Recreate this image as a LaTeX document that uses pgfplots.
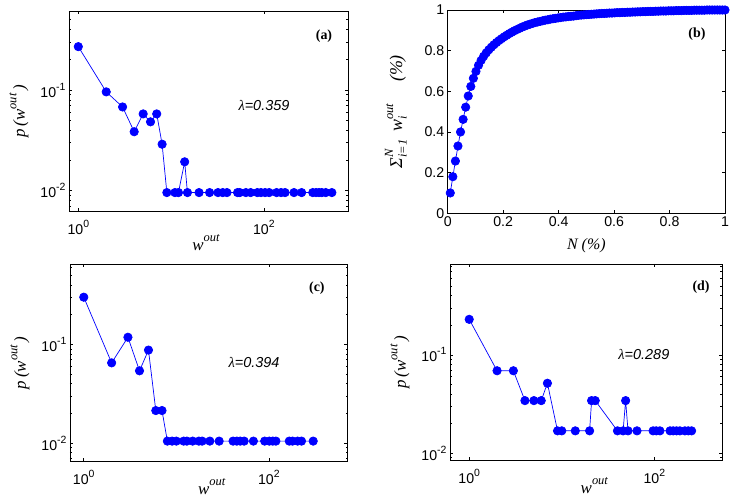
\documentclass[border=0pt]{standalone}
\usepackage{pgfplots}
\pgfplotsset{compat=1.18}
\usepackage{fontspec}
\setmainfont{Liberation Sans}
\newfontfamily\serif{Liberation Serif}
\definecolor{mblue}{RGB}{0,0,255}
\newcommand\supt[1]{\raisebox{0.5em}{\fontsize{10.5}{11}\selectfont #1}}
\newcommand\supl[1]{\raisebox{0.5em}{\fontsize{12.5}{13}\selectfont #1}}
\newcommand\subl[1]{\raisebox{-0.25em}{\fontsize{12.5}{13}\selectfont #1}}

\pgfplotstableread{
x y
1 0.27
2 0.096
3 0.068
4 0.0386
5 0.058
6 0.0484
7 0.058
8 0.029
9 0.0096
11 0.0096
12 0.0096
14 0.0194
15 0.0096
20 0.0096
26 0.0096
32 0.0096
36 0.0096
40 0.0096
52 0.0096
55 0.0096
64 0.0096
72 0.0096
85 0.0096
93 0.0096
103 0.0096
114 0.0096
137 0.0096
153 0.0096
169 0.0096
211 0.0096
255 0.0096
336 0.0096
365 0.0096
393 0.0096
421 0.0096
464 0.0096
540 0.0096
}\dataA

\pgfplotstableread{
x y
0.0093 0.100
0.0185 0.180
0.0278 0.257
0.0370 0.331
0.0463 0.400
0.0556 0.462
0.0648 0.522
0.0741 0.577
0.0833 0.624
0.0926 0.664
0.1019 0.698
0.1111 0.728
0.1204 0.752
0.1296 0.772
0.1389 0.789
0.1481 0.804
0.1574 0.817
0.1667 0.829
0.1759 0.840
0.1852 0.850
0.1944 0.859
0.2037 0.868
0.2130 0.876
0.2222 0.884
0.2315 0.891
0.2407 0.898
0.2500 0.904
0.2593 0.910
0.2685 0.916
0.2778 0.921
0.2870 0.926
0.2963 0.930
0.3056 0.934
0.3148 0.938
0.3241 0.941
0.3333 0.944
0.3426 0.947
0.3519 0.950
0.3611 0.952
0.3704 0.955
0.3796 0.957
0.3889 0.959
0.3981 0.961
0.4074 0.963
0.4167 0.965
0.4259 0.966
0.4352 0.968
0.4444 0.969
0.4537 0.970
0.4630 0.972
0.4722 0.974
0.4815 0.975
0.4907 0.976
0.5000 0.977
0.5093 0.978
0.5185 0.979
0.5278 0.980
0.5370 0.981
0.5463 0.982
0.5556 0.983
0.5648 0.983
0.5741 0.984
0.5833 0.985
0.5926 0.985
0.6019 0.986
0.6111 0.987
0.6204 0.987
0.6296 0.988
0.6389 0.988
0.6481 0.989
0.6574 0.989
0.6667 0.990
0.6759 0.990
0.6852 0.991
0.6944 0.991
0.7037 0.992
0.7130 0.992
0.7222 0.993
0.7315 0.993
0.7407 0.993
0.7500 0.994
0.7593 0.994
0.7685 0.995
0.7778 0.995
0.7870 0.995
0.7963 0.996
0.8056 0.996
0.8148 0.996
0.8241 0.997
0.8333 0.997
0.8426 0.997
0.8519 0.998
0.8611 0.998
0.8704 0.998
0.8796 0.998
0.8889 0.999
0.8981 0.999
0.9074 0.999
0.9167 0.999
0.9259 0.999
0.9352 1.000
0.9444 1.000
0.9537 1.000
0.9630 1.000
0.9722 1.000
0.9815 1.000
0.9907 1.000
1.0000 1.000
}\dataB

\pgfplotstableread{
x y
1 0.30
2 0.065
3 0.118
4 0.054
5 0.0875
6 0.0214
7 0.0214
8 0.0105
9 0.0105
10 0.0105
12 0.0105
13 0.0105
15 0.0105
17.5 0.0105
19 0.0105
23 0.0105
29 0.0105
41 0.0105
45 0.0105
49 0.0105
54 0.0105
68 0.0105
90 0.0105
101 0.0105
110 0.0105
119 0.0105
166 0.0105
180 0.0105
204 0.0105
225 0.0105
301 0.0105
}\dataC

\pgfplotstableread{
x y
1 0.23
2 0.069
3 0.069
4 0.0343
5 0.0343
6 0.0343
7 0.0515
9 0.0169
10 0.0169
14 0.0169
20 0.0169
21 0.0343
23 0.0343
40 0.0169
46 0.0169
49 0.0343
52 0.0169
65 0.0169
97 0.0169
105 0.0169
115 0.0169
148 0.0169
160 0.0169
174 0.0169
189 0.0169
214 0.0169
233 0.0169
253 0.0169
}\dataD

\pgfplotsset{
  panel/.style={
    scale only axis, anchor=north west,
    axis line style={line width=0.9bp},
    every tick/.style={black, line width=0.6bp},
    major tick length=3.5bp, minor tick length=2bp,
    tick label style={font=\fontsize{14.2}{16}\selectfont},
  },
  logpanel/.style={
    panel,
    xtick={1,100}, xticklabels={10\supt{0},10\supt{2}},
    minor xtick={},
    ytick={0.01,0.1}, yticklabels={10\supt{-2},10\supt{-1}},
    minor ytick={0.002,0.003,0.004,0.005,0.006,0.007,0.008,0.009,0.02,0.03,0.04,0.05,0.06,0.07,0.08,0.09,0.2,0.3,0.4,0.5,0.6,0.7,0.8,0.9},
    xticklabel style={yshift=-5bp},
    every axis y label/.style={at={(rel axis cs:0,0.5)}, anchor=center, xshift=-50bp, rotate=90},
    ylabel={\fontsize{17}{19}\selectfont\serif\itshape p\,(w\supl{out}\,)},
  },
  dat/.style={mblue, line width=0.7bp, mark=*, mark size=4.2bp, mark options={fill=mblue, draw=mblue}},
}

\begin{document}
\begin{tikzpicture}
\useasboundingbox (0,0) rectangle (734bp,501bp);

% (a)
\begin{loglogaxis}[logpanel, at={(69bp,490bp)}, width=279.3bp, height=200.7bp,
  xmin=0.794, xmax=812, ymin=0.0062, ymax=0.61,
  every axis x label/.style={at={(rel axis cs:0.49,0)}, anchor=center, yshift=-31bp},
  xlabel={\fontsize{17}{19}\selectfont\serif\itshape w\supl{out}}]
\addplot[dat] table[x=x,y=y] {\dataA};
\node[font=\fontsize{14}{16}\selectfont\serif\bfseries] at (rel axis cs:0.913,0.875) {(a)};
\node[font=\fontsize{14.5}{16}\selectfont\itshape] at (rel axis cs:0.698,0.527) {{\serif λ}=0.359};
\end{loglogaxis}

% (b)
\begin{axis}[panel, at={(447.7bp,491bp)}, width=277.3bp, height=203.3bp,
  xmin=0, xmax=1, ymin=0, ymax=1,
  xtick={0,0.2,0.4,0.6,0.8,1}, xticklabels={0,0.2,0.4,0.6,0.8,1},
  ytick={0,0.2,0.4,0.6,0.8,1}, yticklabels={0,0.2,0.4,0.6,0.8,1},
  every axis x label/.style={at={(rel axis cs:0.5,0)}, anchor=center, yshift=-32bp},
  xlabel={\fontsize{16}{18}\selectfont\serif\itshape N (\%)},
  every axis y label/.style={at={(rel axis cs:0,0.5)}, anchor=center, xshift=-52bp, rotate=90},
  ylabel={\fontsize{18}{20}\selectfont\serif\itshape Σ\rlap{\supl{N}}\subl{i=1}\hspace{0.45em}w\rlap{\supl{out}}\subl{i}\hspace{1.9em}(\%)}]
\addplot[dat] table[x=x,y=y] {\dataB};
\node[font=\fontsize{14}{16}\selectfont\serif\bfseries] at (rel axis cs:0.899,0.882) {(b)};
\end{axis}

% (c)
\begin{loglogaxis}[logpanel, at={(70bp,237bp)}, width=277.7bp, height=197.7bp,
  xmin=0.71, xmax=710, ymin=0.0065, ymax=0.65,
  every axis x label/.style={at={(rel axis cs:0.51,0)}, anchor=center, yshift=-25bp},
  xlabel={\fontsize{17}{19}\selectfont\serif\itshape w\supl{out}}]
\addplot[dat] table[x=x,y=y] {\dataC};
\node[font=\fontsize{14}{16}\selectfont\serif\bfseries] at (rel axis cs:0.889,0.879) {(c)};
\node[font=\fontsize{14.5}{16}\selectfont\itshape] at (rel axis cs:0.663,0.504) {{\serif λ}=0.394};
\end{loglogaxis}

% (d)
\begin{loglogaxis}[logpanel, at={(450bp,237bp)}, width=272.3bp, height=196.7bp,
  xmin=0.62, xmax=543, ymin=0.0084, ymax=0.84,
  every axis x label/.style={at={(rel axis cs:0.53,0)}, anchor=center, yshift=-25bp},
  xlabel={\fontsize{17}{19}\selectfont\serif\itshape w\supl{out}}]
\addplot[dat] table[x=x,y=y] {\dataD};
\node[font=\fontsize{14}{16}\selectfont\serif\bfseries] at (rel axis cs:0.922,0.883) {(d)};
\node[font=\fontsize{14.5}{16}\selectfont\itshape] at (rel axis cs:0.712,0.542) {{\serif λ}=0.289};
\end{loglogaxis}
\end{tikzpicture}
\end{document}
